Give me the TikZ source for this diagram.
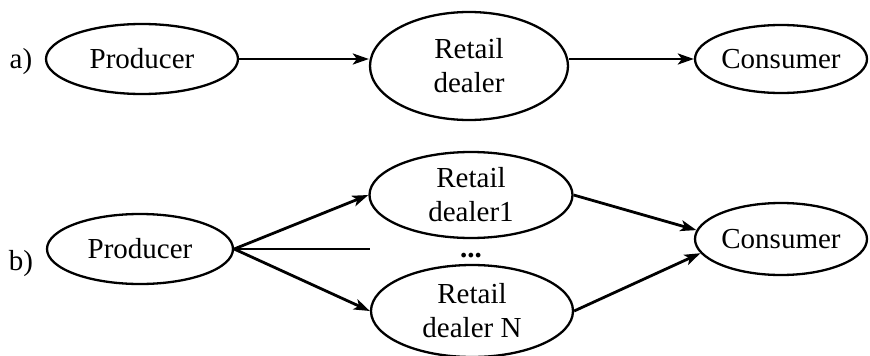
\documentclass[tikz,border=0pt]{standalone}
\usepackage{fontspec}
\setmainfont{Liberation Serif}
\usetikzlibrary{shapes.geometric,arrows.meta}

\begin{document}
\begin{tikzpicture}[x=1pt,y=-1pt,
	font=\fontsize{29}{34}\selectfont,
	party/.style={ellipse,draw,line width=2.3pt,inner sep=0pt,align=center},
	flow/.style={line width=2.8pt,-{Stealth[length=16pt,width=11pt,inset=4pt]}}]
	\def\ya{59}  % row a)
	\def\yb{249} % row b)
	\useasboundingbox (0,0) rectangle (870,356);
	
	% a) one retail dealer between producer and consumer
	\node (la) at (21,62) {a)};
	\node[party,minimum width=192pt,minimum height=70pt] (prodA) at (142,\ya) {Producer};
	\node[party,minimum width=198pt,minimum height=108pt] (retA) at (469,66) {Retail\\dealer};
	\node[party,minimum width=172pt,minimum height=68pt] (consA) at (781,\ya) {Consumer};
	\draw[flow] (prodA.east) -- (prodA.east -| retA.west);
	\draw[flow] (retA.east |- consA.west) -- (consA.west);
	
	% b) N retail dealers
	\node (lb) at (21,264) {b)};
	\node[party,minimum width=186pt,minimum height=70pt] (prodB) at (140,\yb) {Producer};
	\node[party,minimum width=203pt,minimum height=86pt] (retB1) at (471,195) {Retail\\dealer1};
	\node[party,minimum width=202pt,minimum height=92pt] (retBN) at (472,311) {Retail\\dealer N};
	\node (dots) at (471,256) {\textbf{...}};
	\node[party,minimum width=172pt,minimum height=72pt] (consB) at (781,239) {Consumer};
	\draw[flow] (prodB.east) -- (retB1.west);
	\draw[flow] (prodB.east) -- (retBN.west);
	\draw[line width=2.2pt] (prodB.east) -- (prodB.east -| retBN.west);
	\draw[flow] (retB1.east) -- (consB.174);
	\draw[flow] (retBN.east) -- (consB.190);
\end{tikzpicture}
\end{document}
